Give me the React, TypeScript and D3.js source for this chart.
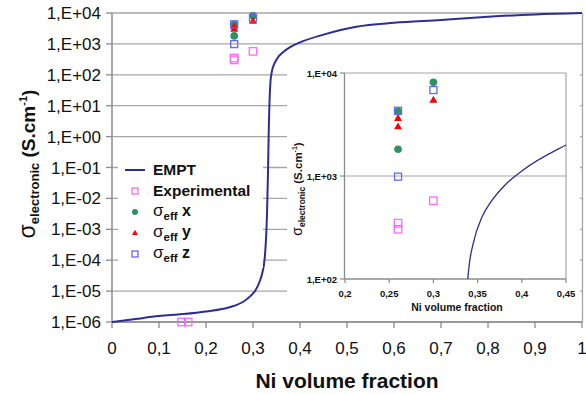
import React from "react";
import * as d3 from "d3";

// ---- data ----
const empX = [0, 0.05, 0.1, 0.15, 0.2, 0.25, 0.28, 0.295, 0.305, 0.315, 0.32, 0.325, 0.328, 0.33, 0.332, 0.3335, 0.335, 0.337, 0.34, 0.345, 0.355, 0.365, 0.38, 0.4, 0.45, 0.52, 0.6, 0.7, 0.8, 0.9, 1.0];
const empV = [1e-6, 1.25e-6, 1.55e-6, 1.8e-6, 2.2e-6, 3.0e-6, 4.6e-6, 7e-6, 1.05e-5, 2.2e-5, 4e-5, 1.2e-4, 6e-4, 4e-3, 0.08, 1.5, 12, 55, 125, 220, 400, 560, 800, 1120, 2000, 3600, 4800, 5900, 7500, 9000, 10000];

const expX = [0.148, 0.162, 0.26, 0.26, 0.3];
const expV = [1e-6, 1e-6, 348, 304, 575];
const sxX = [0.26, 0.26, 0.3];
const sxV = [4216, 1816, 8130];
const syX = [0.26, 0.26, 0.3];
const syV = [3630, 3010, 5470];
const szX = [0.26, 0.26, 0.3];
const szV = [4300, 985, 6830];

const yTickValues = [1e-6, 1e-5, 1e-4, 1e-3, 1e-2, 1e-1, 1, 10, 100, 1000, 10000];
const yTickLabels = ["1,E-06", "1,E-05", "1,E-04", "1,E-03", "1,E-02", "1,E-01", "1,E+00", "1,E+01", "1,E+02", "1,E+03", "1,E+04"];
const xTickValues = [0, 0.1, 0.2, 0.3, 0.4, 0.5, 0.6, 0.7, 0.8, 0.9, 1];
const xTickLabels = ["0", "0,1", "0,2", "0,3", "0,4", "0,5", "0,6", "0,7", "0,8", "0,9", "1"];
const inYTickValues = [100, 1000, 10000];
const inYTickLabels = ["1,E+02", "1,E+03", "1,E+04"];
const inXTickValues = [0.2, 0.25, 0.3, 0.35, 0.4, 0.45];
const inXTickLabels = ["0,2", "0,25", "0,3", "0,35", "0,4", "0,45"];

const FONT = "'Liberation Sans', Arial, Helvetica, sans-serif";
const C_LINE = "#2D2D96";
const C_EXP = "#FF66FF";
const C_X = "#2E9160";
const C_Y = "#FF0000";
const C_Z = "#6464FF";
const C_GRID = "#A6A6A6";
const C_AXIS = "#8C8C8C";

function Tri({ cx, cy, s, fill }: { cx: number; cy: number; s: number; fill: string }) {
  const h = s * 0.87;
  return <path d={`M${cx},${cy - h * 0.62}L${cx + s / 2},${cy + h * 0.38}L${cx - s / 2},${cy + h * 0.38}Z`} fill={fill} />;
}
function Sq({ cx, cy, s, stroke, w = 1.3 }: { cx: number; cy: number; s: number; stroke: string; w?: number }) {
  return <rect x={cx - s / 2} y={cy - s / 2} width={s} height={s} fill="none" stroke={stroke} strokeWidth={w} />;
}

export default function App() {
  const mx = d3.scaleLinear().domain([0, 1]).range([112, 582]);
  const my = d3.scaleLog().domain([1e-6, 1e4]).range([322, 13]);
  const ix = d3.scaleLinear().domain([0.2, 0.45]).range([345, 566]);
  const iy = d3.scaleLog().domain([100, 1e4]).range([279, 73]);

  const pts = empX.map((x, i) => [x, empV[i]] as [number, number]);
  const mainLine = d3.line<[number, number]>().x(d => mx(d[0])).y(d => my(d[1])).curve(d3.curveMonotoneX)(pts) || "";
  const insetLine = d3.line<[number, number]>().x(d => ix(d[0])).y(d => iy(d[1])).curve(d3.curveMonotoneX)(pts.filter(p => p[0] > 0.3)) || "";

  const markers = (xs: (v: number) => number, ys: (v: number) => number, big: boolean) => (
    <g>
      {expX.map((x, i) => <Sq key={"e" + i} cx={xs(x)} cy={ys(expV[i])} s={big ? 7.5 : 7.5} stroke={C_EXP} />)}
      {sxX.map((x, i) => <circle key={"x" + i} cx={xs(x)} cy={ys(sxV[i])} r={3.8} fill={C_X} />)}
      {syX.map((x, i) => <Tri key={"y" + i} cx={xs(x)} cy={ys(syV[i])} s={8} fill={C_Y} />)}
      {szX.map((x, i) => <Sq key={"z" + i} cx={xs(x)} cy={ys(szV[i])} s={7} stroke={C_Z} />)}
    </g>
  );

  const legendRows = [
    { label: "EMPT", y: 175 },
    { label: "Experimental", y: 196 },
    { label: "x", y: 217 },
    { label: "y", y: 238 },
    { label: "z", y: 259 },
  ];

  return (
    <svg width={586} height={394} style={{ position: "absolute", left: 0, top: 0, background: "#fff" }} fontFamily={FONT}>
      <defs>
        <clipPath id="inclip">
          <rect x={345} y={73} width={221} height={206} />
        </clipPath>
      </defs>
      {/* main grid */}
      {yTickValues.map((v, i) => (
        <g key={i}>
          <line x1={112} x2={582} y1={my(v)} y2={my(v)} stroke={C_GRID} strokeWidth={1.3} />
          <line x1={106} x2={112} y1={my(v)} y2={my(v)} stroke={C_AXIS} strokeWidth={1.3} />
          <text x={101} y={my(v) + 6} fontSize={17} textAnchor="end" fill="#111">{yTickLabels[i]}</text>
        </g>
      ))}
      <line x1={582.5} x2={582.5} y1={13} y2={322} stroke={C_GRID} strokeWidth={1.3} />
      <line x1={112} x2={112} y1={13} y2={322} stroke={C_AXIS} strokeWidth={1.5} />
      <line x1={112} x2={582} y1={322} y2={322} stroke={C_AXIS} strokeWidth={1.5} />
      {xTickValues.map((v, i) => (
        <g key={i}>
          <line x1={mx(v)} x2={mx(v)} y1={322} y2={328} stroke={C_AXIS} strokeWidth={1.3} />
          <text x={mx(v)} y={354} fontSize={17} textAnchor="middle" fill="#111">{xTickLabels[i]}</text>
        </g>
      ))}
      <path d={mainLine} fill="none" stroke={C_LINE} strokeWidth={2} />
      {markers(mx, my, true)}

      {/* titles */}
      <text x={347} y={388} fontSize={21} fontWeight="bold" textAnchor="middle" fill="#111">Ni volume fraction</text>
      <text transform="translate(35,164) rotate(-90)" textAnchor="middle" fill="#111" fontWeight="bold">
        <tspan fontSize={23} fontWeight="normal">σ</tspan>
        <tspan fontSize={13} dy={4}>electronic</tspan>
        <tspan fontSize={19} dy={-4}> (S.cm</tspan>
        <tspan fontSize={11} dy={-8}>-1</tspan>
        <tspan fontSize={19} dy={8}>)</tspan>
      </text>

      {/* legend */}
      <rect x={118} y={153} width={145} height={115} fill="#fff" />
      <line x1={125} x2={145} y1={170} y2={170} stroke={C_LINE} strokeWidth={2} />
      <Sq cx={135} cy={191} s={6} stroke={C_EXP} />
      <circle cx={135} cy={212} r={3} fill={C_X} />
      <Tri cx={135} cy={233} s={6} fill={C_Y} />
      <Sq cx={135} cy={254} s={6} stroke={C_Z} />
      {legendRows.map((r, i) =>
        i < 2 ? (
          <text key={i} x={153} y={r.y} fontSize={15.5} fontWeight="bold" fill="#111">{r.label}</text>
        ) : (
          <text key={i} x={153} y={r.y - 1} fontWeight="bold" fill="#111">
            <tspan fontSize={17} fontWeight="normal">σ</tspan>
            <tspan fontSize={11.5} dy={4}>eff</tspan>
            <tspan fontSize={16} dy={-4}>{"  " + r.label}</tspan>
          </text>
        )
      )}

      {/* inset */}
      <rect x={287} y={54} width={293} height={262} fill="#fff" />
      <line x1={345} x2={566} y1={iy(1000)} y2={iy(1000)} stroke={C_GRID} strokeWidth={1.2} />
      <line x1={345} x2={566} y1={73} y2={73} stroke={C_GRID} strokeWidth={1.2} />
      <line x1={566} x2={566} y1={73} y2={279} stroke={C_GRID} strokeWidth={1.2} />
      <line x1={344.5} x2={344.5} y1={73} y2={279} stroke={C_AXIS} strokeWidth={1.3} />
      <line x1={344.5} x2={566} y1={279} y2={279} stroke={C_AXIS} strokeWidth={1.3} />
      {inYTickValues.map((v, i) => (
        <g key={i}>
          <line x1={340} x2={345} y1={iy(v)} y2={iy(v)} stroke={C_AXIS} strokeWidth={1.2} />
          <text x={337} y={iy(v) + 3.5} fontSize={9.5} fontWeight="bold" textAnchor="end" fill="#111">{inYTickLabels[i]}</text>
        </g>
      ))}
      {inXTickValues.map((v, i) => (
        <g key={i}>
          <line x1={ix(v)} x2={ix(v)} y1={279} y2={283} stroke={C_AXIS} strokeWidth={1.2} />
          <text x={ix(v)} y={297} fontSize={9.5} fontWeight="bold" textAnchor="middle" fill="#111">{inXTickLabels[i]}</text>
        </g>
      ))}
      <g clipPath="url(#inclip)">
        <path d={insetLine} fill="none" stroke={C_LINE} strokeWidth={1.3} />
      </g>
      {markers(ix, iy, false)}
      <text x={457} y={311} fontSize={10.5} fontWeight="bold" textAnchor="middle" fill="#111">Ni volume fraction</text>
      <text transform="translate(302,189) rotate(-90)" textAnchor="middle" fill="#111" fontWeight="bold">
        <tspan fontSize={14} fontWeight="normal">σ</tspan>
        <tspan fontSize={8.5} dy={2.5}>electronic</tspan>
        <tspan fontSize={11.5} dy={-2.5}> (S.cm</tspan>
        <tspan fontSize={7} dy={-5}>-1</tspan>
        <tspan fontSize={11.5} dy={5}>)</tspan>
      </text>
    </svg>
  );
}
